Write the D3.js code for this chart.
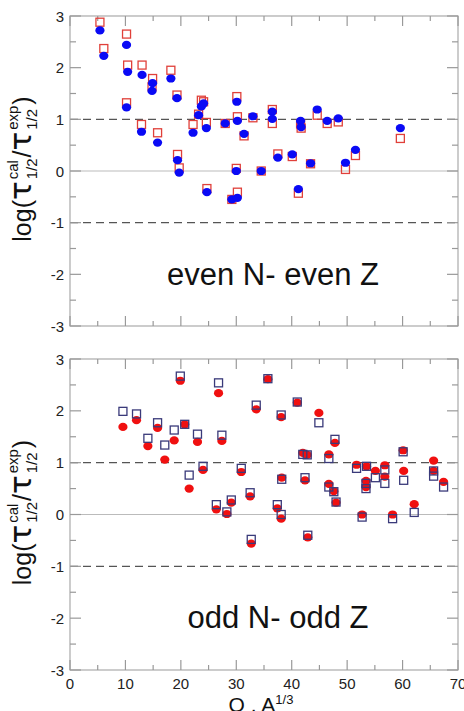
<!DOCTYPE html>
<html><head><meta charset="utf-8">
<script src="https://cdn.jsdelivr.net/npm/d3@7/dist/d3.min.js"></script>
<style>html,body{margin:0;padding:0;background:#fff}svg{display:block}</style>
</head><body>
<script>
// ---- data ----
const evenX = [5.4,6.1,10.2,10.4,10.2,13.0,12.9,14.9,14.8,15.8,18.2,19.3,19.4,19.7,22.2,23.2,23.7,24.1,24.6,24.7,28.0,29.2,30.2,30.1,30.2,30.0,31.4,33.0,34.5,36.5,36.5,37.5,40.1,41.2,41.6,41.7,43.4,44.6,46.4,48.4,49.7,51.5,59.6];
const evenCircle = [2.72,2.23,2.44,1.92,1.23,1.86,0.76,1.70,1.55,0.55,1.79,1.41,0.21,-0.03,0.74,1.08,1.25,1.31,0.83,-0.41,0.92,-0.55,-0.52,1.34,0.97,0.0,0.72,1.06,0.0,1.15,1.01,0.26,0.32,-0.35,0.97,0.85,0.15,1.19,0.97,1.02,0.16,0.41,0.83];
const evenSquare = [2.88,2.37,2.65,2.05,1.32,2.05,0.90,1.79,1.63,0.74,1.95,1.47,0.32,0.06,0.90,1.10,1.37,1.34,0.94,-0.34,0.92,-0.55,-0.41,1.44,1.05,0.05,0.68,1.03,0.0,1.19,0.92,0.33,0.28,-0.43,0.91,0.83,0.14,1.08,0.92,0.95,0.03,0.30,0.63];

const oddX = [9.55,12.0,14.05,15.8,17.1,18.8,19.9,20.7,21.5,23.0,24.0,26.4,26.8,27.4,28.3,29.1,30.9,32.5,32.7,33.6,35.7,37.4,38.1,38.2,38.1,41.0,42.0,42.4,42.8,42.9,44.9,46.7,46.7,47.6,47.8,48.0,51.7,52.7,53.5,53.4,53.4,55.1,56.8,56.8,58.2,60.1,60.2,62.1,65.6,65.6,67.4];
const oddCircle = [1.69,1.82,1.32,1.67,1.06,1.43,2.58,1.74,0.50,1.40,0.86,0.10,2.34,1.42,0.01,0.23,0.82,0.35,-0.56,2.03,2.61,0.12,1.88,0.71,-0.08,2.16,1.19,0.66,1.15,-0.44,1.96,1.16,0.59,0.45,1.38,0.23,0.96,0.0,0.93,0.65,0.53,0.84,0.95,0.73,0.0,1.24,0.84,0.20,1.04,0.84,0.63];
const oddSquare = [1.99,1.94,1.47,1.77,1.34,1.63,2.67,1.74,0.76,1.55,0.93,0.19,2.54,1.53,0.05,0.28,0.89,0.42,-0.48,2.11,2.62,0.19,1.92,0.68,0.0,2.17,1.16,0.71,1.15,-0.40,1.77,1.08,0.53,0.44,1.45,0.24,0.89,-0.05,0.93,0.60,0.50,0.71,0.86,0.60,-0.08,1.21,0.66,0.04,0.84,0.74,0.53];

const xTickLabels = ["0","10","20","30","40","50","60","70"];
const yTickLabels = ["-3","-2","-1","0","1","2","3"];
const panelLabels = ["even N- even Z","odd N- odd Z"];

// ---- drawing ----
const W = 464, H = 711;
const svg = d3.select("body").append("svg").attr("width", W).attr("height", H);
const FONT = "'Liberation Sans', Arial, Helvetica, sans-serif";
const x = d3.scaleLinear().domain([0, 70]).range([70, 458]);

function yTitle(g, cx, cy) {
  const grp = g.append("g");
  const inner = grp.append("g");
  const pieces = [
    { t: "log(", fs: 25 },
    { t: "τ", fs: 31, ff: "'DejaVu Sans', sans-serif" },
    { sub: "1/2", sup: "cal" },
    { t: "/", fs: 25 },
    { t: "τ", fs: 31, ff: "'DejaVu Sans', sans-serif" },
    { sub: "1/2", sup: "exp" },
    { t: ")", fs: 25 }
  ];
  let pos = 0;
  pieces.forEach(p => {
    if (p.t) {
      const el = inner.append("text").attr("x", pos).attr("y", 0)
        .attr("font-family", p.ff || FONT).attr("font-size", p.fs).attr("fill", "#111").text(p.t);
      pos += el.node().getComputedTextLength() + (p.t === "τ" ? 1 : 0);
    } else {
      const a = inner.append("text").attr("x", pos + 1).attr("y", 6)
        .attr("font-family", FONT).attr("font-size", 15).attr("fill", "#111").text(p.sub);
      const b = inner.append("text").attr("x", pos + 1).attr("y", -13)
        .attr("font-family", FONT).attr("font-size", 15).attr("fill", "#111").text(p.sup);
      pos += Math.max(a.node().getComputedTextLength(), b.node().getComputedTextLength()) + 2;
    }
  });
  inner.attr("transform", `translate(${-pos / 2},0)`);
  grp.attr("transform", `translate(${cx},${cy}) rotate(-90)`);
}

function panel(top, bottom, xs, circ, sq, circColor, sqColor, label, labelX, labelY, circlesOnTop, showXLabels) {
  const y = d3.scaleLinear().domain([-3, 3]).range([bottom, top]);
  const g = svg.append("g");
  // reference lines
  g.append("line").attr("x1", x(0)).attr("x2", x(70)).attr("y1", y(0)).attr("y2", y(0))
    .attr("stroke", "#bbb").attr("stroke-width", 1.2);
  [1, -1].forEach(v => g.append("line").attr("x1", x(0)).attr("x2", x(70)).attr("y1", y(v)).attr("y2", y(v))
    .attr("stroke", "#555").attr("stroke-width", 1.2).attr("stroke-dasharray", "8,5"));
  // frame
  g.append("rect").attr("x", x(0)).attr("y", top).attr("width", x(70) - x(0)).attr("height", bottom - top)
    .attr("fill", "none").attr("stroke", "#aaa").attr("stroke-width", 1.2);
  // ticks
  const tk = g.append("g").attr("stroke", "#999").attr("stroke-width", 1.2);
  d3.range(0, 71, 5).forEach(v => {
    const len = v % 10 === 0 ? 10 : 5;
    tk.append("line").attr("x1", x(v)).attr("x2", x(v)).attr("y1", bottom).attr("y2", bottom - len);
    tk.append("line").attr("x1", x(v)).attr("x2", x(v)).attr("y1", top).attr("y2", top + len);
  });
  d3.range(-3, 3.01, 0.5).forEach(v => {
    const len = Math.abs(v % 1) < 1e-6 ? 11 : 6;
    tk.append("line").attr("y1", y(v)).attr("y2", y(v)).attr("x1", x(0)).attr("x2", x(0) + len);
    tk.append("line").attr("y1", y(v)).attr("y2", y(v)).attr("x1", x(70)).attr("x2", x(70) - len);
  });
  // y tick labels
  g.selectAll(".yl").data(yTickLabels).enter().append("text")
    .attr("x", 64).attr("y", d => y(+d) + 5.5).attr("text-anchor", "end")
    .attr("font-family", FONT).attr("font-size", 15).attr("fill", "#222").text(d => d);
  if (showXLabels) {
    g.selectAll(".xl").data(xTickLabels).enter().append("text")
      .attr("x", d => x(+d)).attr("y", bottom + 19).attr("text-anchor", "middle")
      .attr("font-family", FONT).attr("font-size", 15).attr("fill", "#222").text(d => d);
  }
  // y axis title
  yTitle(g, 31, (top + bottom) / 2 - 2);
  // panel label
  g.append("text").attr("x", labelX).attr("y", labelY).attr("text-anchor", "middle")
    .attr("font-family", FONT).attr("font-size", 31).attr("fill", "#111").text(label);

  const pts = xs.map((xv, i) => ({ x: xv, c: circ[i], s: sq[i] }));
  function drawSquares() {
    g.append("g").selectAll("rect").data(pts).enter().append("rect")
      .attr("x", d => x(d.x) - 4).attr("y", d => y(d.s) - 4).attr("width", 8).attr("height", 8)
      .attr("fill", "none").attr("stroke", sqColor).attr("stroke-width", 1.3);
  }
  function drawCircles() {
    g.append("g").selectAll("ellipse").data(pts).enter().append("ellipse")
      .attr("cx", d => x(d.x)).attr("cy", d => y(d.c)).attr("rx", 4.6).attr("ry", 4.1)
      .attr("fill", circColor);
  }
  if (circlesOnTop) { drawSquares(); drawCircles(); } else { drawCircles(); drawSquares(); }
}

panel(16, 326, evenX, evenCircle, evenSquare, "#0a0af5", "#e0403a", panelLabels[0], 273, 285, true, false);
panel(359, 670, oddX, oddCircle, oddSquare, "#f01010", "#3a3a7a", panelLabels[1], 278, 628, false, true);

// x axis title
const xt = svg.append("text").attr("x", 261).attr("y", 712).attr("text-anchor", "middle")
  .attr("font-family", FONT).attr("font-size", 21).attr("fill", "#111");
xt.append("tspan").text("Q . A");
xt.append("tspan").attr("font-size", 13).attr("dy", -8).text("1/3");
</script>
</body></html>
